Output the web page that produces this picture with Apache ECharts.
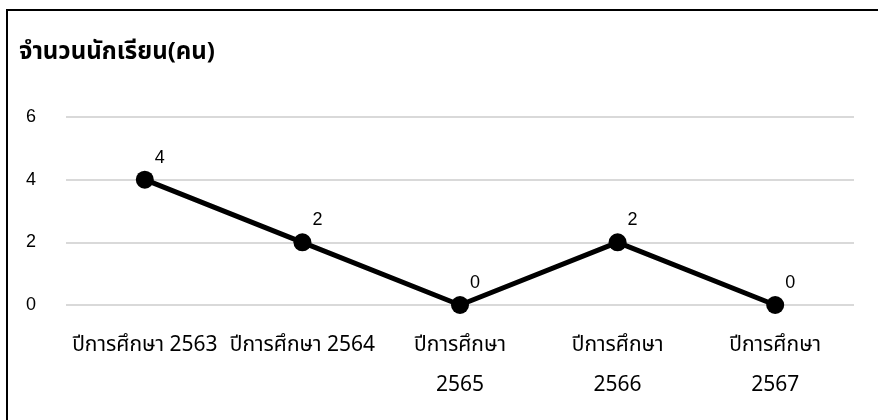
<!DOCTYPE html>
<html>
<head>
<meta charset="utf-8">
<script src="https://cdn.jsdelivr.net/npm/echarts@6/dist/echarts.min.js"></script>
<style>
  html, body { margin: 0; padding: 0; background: #fff; }
  #chart { width: 878px; height: 420px; }
</style>
</head>
<body>
<div id="chart"></div>
<script>
// ข้อมูล
var titleText = 'จำนวนนักเรียน(คน)';
var categories = ['ปีการศึกษา 2563', 'ปีการศึกษา 2564', 'ปีการศึกษา 2565', 'ปีการศึกษา 2566', 'ปีการศึกษา 2567'];
var students = [4, 2, 0, 2, 0];
var yTicks = [0, 2, 4, 6];

var thaiFont = '"Noto Sans", "Noto Sans Thai", "DejaVu Sans", sans-serif';

var myChart = echarts.init(document.getElementById('chart'));

var option = {
    backgroundColor: '#fff',
    animation: false,
    title: {
        text: titleText,
        left: 14,
        top: 35,
        textStyle: {
            fontFamily: thaiFont,
            fontSize: 24,
            fontWeight: 'bold',
            color: '#000'
        }
    },
    graphic: [{
        type: 'rect',
        shape: { x: 7, y: 10, width: 900, height: 500 },
        style: { fill: 'none', stroke: '#000', lineWidth: 2 },
        silent: true
    }],
    grid: {
        left: 66,
        right: 24,
        top: 117,
        bottom: 115
    },
    xAxis: {
        type: 'category',
        data: categories,
        boundaryGap: true,
        axisLine: { show: false },
        axisTick: { show: false },
        axisLabel: {
            interval: 0,
            margin: 20,
            fontFamily: thaiFont,
            fontSize: 21,
            color: '#000',
            lineHeight: 40,
            formatter: function (value, idx) {
                // สามปีหลังขึ้นบรรทัดใหม่แบบในต้นฉบับ
                return idx >= 2 ? value.replace(' ', '\n') : value;
            }
        }
    },
    yAxis: {
        type: 'value',
        min: yTicks[0],
        max: yTicks[yTicks.length - 1],
        interval: 2,
        axisLine: { show: false },
        axisTick: { show: false },
        axisLabel: {
            margin: 30,
            fontFamily: 'Liberation Sans, Arial, sans-serif',
            fontSize: 18,
            color: '#000'
        },
        splitLine: {
            lineStyle: { color: '#d9d9d9', width: 2 }
        }
    },
    series: [{
        type: 'line',
        data: students,
        symbol: 'circle',
        symbolSize: 18,
        itemStyle: { color: '#000' },
        lineStyle: { color: '#000', width: 5 },
        label: {
            show: true,
            position: 'top',
            offset: [15, 1],
            fontFamily: 'Liberation Sans, Arial, sans-serif',
            fontSize: 18,
            color: '#000'
        }
    }]
};

myChart.setOption(option);
</script>
</body>
</html>
